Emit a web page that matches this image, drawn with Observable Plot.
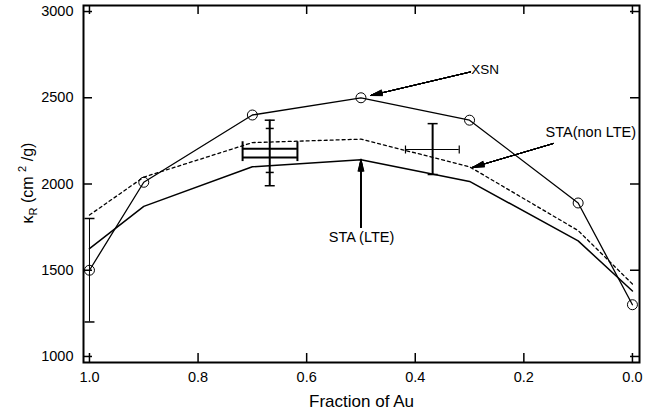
<!DOCTYPE html>
<html>
<head>
<meta charset="utf-8">
<script src="https://cdn.jsdelivr.net/npm/d3@7"></script>
<script src="https://cdn.jsdelivr.net/npm/@observablehq/plot@0.6"></script>
<style>
  html, body { margin: 0; padding: 0; background: white; }
  #chart { width: 658px; height: 417px; }
</style>
</head>
<body>
<div id="chart"></div>
<script>
// ---- data ----
const fractions = [1.0, 0.9, 0.7, 0.5, 0.3, 0.1, 0.0];
const xsn       = [1500, 2010, 2400, 2500, 2370, 1890, 1300];
const staLTE    = [1625, 1870, 2100, 2140, 2015, 1670, 1380];
const staNonLTE = [1820, 2040, 2240, 2260, 2100, 1730, 1420];

const xTicks = [1.0, 0.8, 0.6, 0.4, 0.2, 0.0];
const yTicks = [1000, 1500, 2000, 2500, 3000];

// error bars (experimental points)
const vErrF   = [1.0, 0.668, 0.368];
const vErrLo  = [1200, 1990, 2055];
const vErrHi  = [1800, 2370, 2350];
const vErrW   = [1, 2, 2];
const innerCapF = [0.668, 0.668];
const innerCapV = [2067, 2322];
const boxLinesV = [2204, 2154];
const boxLo = 0.718, boxHi = 0.617;
const boxCapLo = 2130, boxCapHi = 2245;
const hErrV = [2200], hErrLo = [0.418], hErrHi = [0.319];

// annotations
const annText = ["XSN", "STA(non LTE)", "STA (LTE)"];
const annTx   = [0.297, 0.160, 0.499];
const annTy   = [2664, 2299, 1690];
const annAnchor = ["start", "start", "middle"];
const annSize = [13.5, 14.5, 14.5];
const arrX1 = [0.298, 0.1455, 0.500];
const arrY1 = [2650, 2235, 1748];
const arrX2 = [0.4825, 0.2947, 0.500];
const arrY2 = [2513, 2096, 2143];

// ---- build tables ----
const rows = (ys) => fractions.map((f, i) => ({f, v: ys[i]}));
const vErr = vErrF.map((f, i) => ({f, lo: vErrLo[i], hi: vErrHi[i], w: vErrW[i]}));
const innerCaps = innerCapF.map((f, i) => ({f, v: innerCapV[i]}));
const boxLines = boxLinesV.map(v => ({v, lo: boxLo, hi: boxHi}));
const hErr = hErrV.map((v, i) => ({v, lo: hErrLo[i], hi: hErrHi[i]}));
const ann = annText.map((t, i) => ({t, x: annTx[i], y: annTy[i], a: annAnchor[i], s: annSize[i]}));
const arrows = arrX1.map((x1, i) => ({x1, y1: arrY1[i], x2: arrX2[i], y2: arrY2[i]}));

const W = 658, H = 417, mL = 83, mR = 19, mT = 5, mB = 55;
const fw = W - mL - mR, fh = H - mT - mB, tk = 9;

const hCap = {draw(ctx, s) { const r = Math.sqrt(s / Math.PI); ctx.moveTo(-r, 0); ctx.lineTo(r, 0); }};
const vCap = {draw(ctx, s) { const r = Math.sqrt(s / Math.PI); ctx.moveTo(0, -r); ctx.lineTo(0, r); }};

const headMarks = [4, 8, 12, 16, 20, 24, 28].map(a =>
  Plot.arrow(arrows, {x1: "x1", y1: "y1", x2: "x2", y2: "y2", headAngle: a, headLength: 18, stroke: "black", strokeWidth: 1}));

const textMarks = ann.map(d =>
  Plot.text([d], {x: "x", y: "y", text: "t", textAnchor: d.a, fontSize: d.s}));

const plot = Plot.plot({
  width: W, height: H,
  marginLeft: mL, marginRight: mR, marginTop: mT, marginBottom: mB,
  x: {domain: [1.011, -0.013]},
  y: {domain: [965, 3035]},
  style: {fontFamily: "'Liberation Sans', Arial, sans-serif", fontSize: "14px", background: "white", color: "black"},
  marks: [
    Plot.frame({stroke: "black", strokeWidth: 2}),
    // inward ticks on all four sides
    Plot.tickY(yTicks, {y: d => d, insetRight: fw - tk, strokeWidth: 1.5}),
    Plot.tickY(yTicks, {y: d => d, insetLeft: fw - tk, strokeWidth: 1.5}),
    Plot.tickX(xTicks, {x: d => d, insetTop: fh - tk, strokeWidth: 1.5}),
    Plot.tickX(xTicks, {x: d => d, insetBottom: fh - tk, strokeWidth: 1.5}),
    Plot.axisX(xTicks, {tickSize: 0, tickPadding: 9, tickFormat: d3.format(".1f"), label: null, fontSize: 14.5}),
    Plot.axisY(yTicks, {tickSize: 0, tickPadding: 10, tickFormat: d => String(d), label: null, fontSize: 14.5}),
    Plot.text(["Fraction of Au"], {frameAnchor: "bottom", dy: 44, text: d => d, fontSize: 17}),
    // curves
    Plot.line(rows(staNonLTE), {x: "f", y: "v", stroke: "black", strokeWidth: 1.3, strokeDasharray: "3,3"}),
    Plot.line(rows(staLTE), {x: "f", y: "v", stroke: "black", strokeWidth: 1.5}),
    Plot.line(rows(xsn), {x: "f", y: "v", stroke: "black", strokeWidth: 1.3}),
    Plot.dot(rows(xsn), {x: "f", y: "v", r: 5, stroke: "black", fill: "none", strokeWidth: 1}),
    // error bars
    Plot.ruleX(vErr, {x: "f", y1: "lo", y2: "hi", stroke: "black", strokeWidth: "w"}),
    Plot.dot(vErr, {x: "f", y: "lo", symbol: hCap, r: 5, stroke: "black", strokeWidth: 1.5, fill: "none"}),
    Plot.dot(vErr, {x: "f", y: "hi", symbol: hCap, r: 5, stroke: "black", strokeWidth: 1.5, fill: "none"}),
    Plot.dot(innerCaps, {x: "f", y: "v", symbol: hCap, r: 4, stroke: "black", strokeWidth: 1.5, fill: "none"}),
    Plot.ruleY(boxLines, {y: "v", x1: "lo", x2: "hi", stroke: "black", strokeWidth: 2}),
    Plot.ruleX([boxLo, boxHi], {x: d => d, y1: boxCapLo, y2: boxCapHi, stroke: "black", strokeWidth: 2}),
    Plot.ruleY(hErr, {y: "v", x1: "lo", x2: "hi", stroke: "black", strokeWidth: 1}),
    Plot.dot(hErr, {x: "lo", y: "v", symbol: vCap, r: 4, stroke: "black", strokeWidth: 1.2, fill: "none"}),
    Plot.dot(hErr, {x: "hi", y: "v", symbol: vCap, r: 4, stroke: "black", strokeWidth: 1.2, fill: "none"}),
    // annotations
    ...headMarks,
    ...textMarks
  ]
});

// y-axis label with subscript / superscript
const svg = d3.select(plot);
const lab = svg.append("text")
  .attr("transform", "translate(33,183) rotate(-90)")
  .attr("text-anchor", "middle")
  .attr("font-family", "'Liberation Sans', Arial, sans-serif")
  .attr("font-size", 16)
  .attr("fill", "black");
lab.append("tspan").text("κ");
lab.append("tspan").attr("font-size", 11).attr("dy", 4).text("R");
lab.append("tspan").attr("dy", -4).text(" (cm ");
lab.append("tspan").attr("font-size", 11).attr("dy", -7).text("2");
lab.append("tspan").attr("dy", 7).text(" /g)");

document.getElementById("chart").appendChild(plot);
</script>
</body>
</html>
